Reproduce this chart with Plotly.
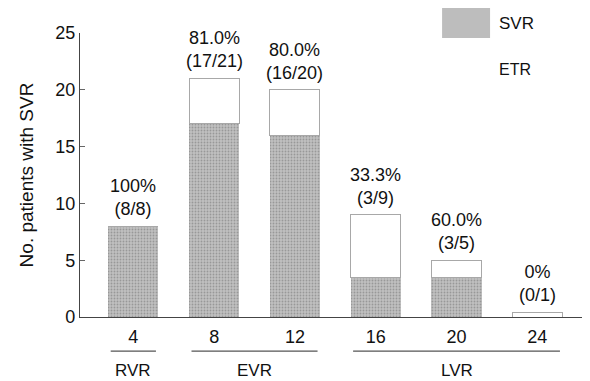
import plotly.graph_objects as go

weeks = ["4", "8", "12", "16", "20", "24"]
svr_values = [8, 17, 16, 3.5, 3.5, 0]
etr_values = [8, 21, 20, 9, 5, 0.4]
pct_labels = ["100%", "81.0%", "80.0%", "33.3%", "60.0%", "0%"]
frac_labels = ["(8/8)", "(17/21)", "(16/20)", "(3/9)", "(3/5)", "(0/1)"]
groups = ["RVR", "EVR", "LVR"]
group_first = [0, 1, 3]
group_last = [0, 2, 5]
y_ticks = [0, 5, 10, 15, 20, 25]

FONT = "Liberation Sans, Arial, Helvetica, sans-serif"
etr_extra = [e - s for e, s in zip(etr_values, svr_values)]
idx = list(range(len(weeks)))

fig = go.Figure()
fig.add_trace(go.Bar(
    x=idx, y=svr_values, name="SVR", width=0.62,
    marker=dict(color="#bdbdbd",
                pattern=dict(shape=".", fgcolor="#707070", bgcolor="#c0c0c0",
                             size=3, solidity=0.3),
                line=dict(width=0)),
    hoverinfo="skip",
))
fig.add_trace(go.Bar(
    x=idx, y=etr_extra, name="ETR", width=0.62,
    marker=dict(color="white", line=dict(color="#a8a8a8", width=1)),
    hoverinfo="skip",
))

for i in idx:
    fig.add_annotation(x=i, y=etr_values[i], xref="x", yref="y",
                       text=pct_labels[i] + "<br>" + frac_labels[i],
                       showarrow=False, yanchor="bottom", yshift=5,
                       font=dict(family=FONT, size=18, color="#111"))

# group brackets under the axis
for g, a, b in zip(groups, group_first, group_last):
    x0 = a - 0.28
    x1 = b + 0.28
    fig.add_shape(type="line", xref="x", yref="paper", x0=x0, x1=x1,
                  y0=-0.12, y1=-0.12, line=dict(color="#555", width=1.2))
    fig.add_annotation(x=(x0 + x1) / 2, y=-0.188, xref="x", yref="paper",
                       text=g, showarrow=False, yanchor="middle",
                       font=dict(family=FONT, size=17, color="#111"))

# manual legend
fig.add_shape(type="rect", xref="paper", yref="paper", x0=0.717, x1=0.812,
              y0=0.982, y1=1.088, fillcolor="#bdbdbd", line=dict(width=0), layer="above")
fig.add_annotation(x=0.826, y=1.035, xref="paper", yref="paper", text="SVR",
                   showarrow=False, xanchor="left", yanchor="middle",
                   font=dict(family=FONT, size=17, color="#111"))
fig.add_shape(type="rect", xref="paper", yref="paper", x0=0.717, x1=0.812,
              y0=0.82, y1=0.92, fillcolor="white", line=dict(width=0))
fig.add_annotation(x=0.826, y=0.87, xref="paper", yref="paper", text="ETR",
                   showarrow=False, xanchor="left", yanchor="middle",
                   font=dict(family=FONT, size=16, color="#111"))

fig.update_layout(
    width=582, height=373,
    margin=dict(l=72, r=5, t=25, b=64),
    barmode="stack", bargap=0.38,
    showlegend=False,
    plot_bgcolor="white", paper_bgcolor="white",
    font=dict(family=FONT, size=17, color="#111"),
)
fig.update_xaxes(
    tickmode="array", tickvals=idx, ticktext=weeks,
    range=[-0.66, 5.59], showgrid=False, zeroline=False,
    showline=True, linecolor="#444", linewidth=1,
    ticks="outside", ticklen=3, tickcolor="rgba(0,0,0,0)",
    tickfont=dict(size=18),
)
fig.update_yaxes(
    range=[0, 25], tickvals=y_ticks, showgrid=False, zeroline=False,
    showline=True, linecolor="#444", linewidth=1.2,
    ticks="inside", ticklen=5, tickcolor="#666",
    tickfont=dict(size=18),
    title=dict(text="No. patients with SVR", font=dict(size=19), standoff=16),
)

fig.write_html("out.html")
